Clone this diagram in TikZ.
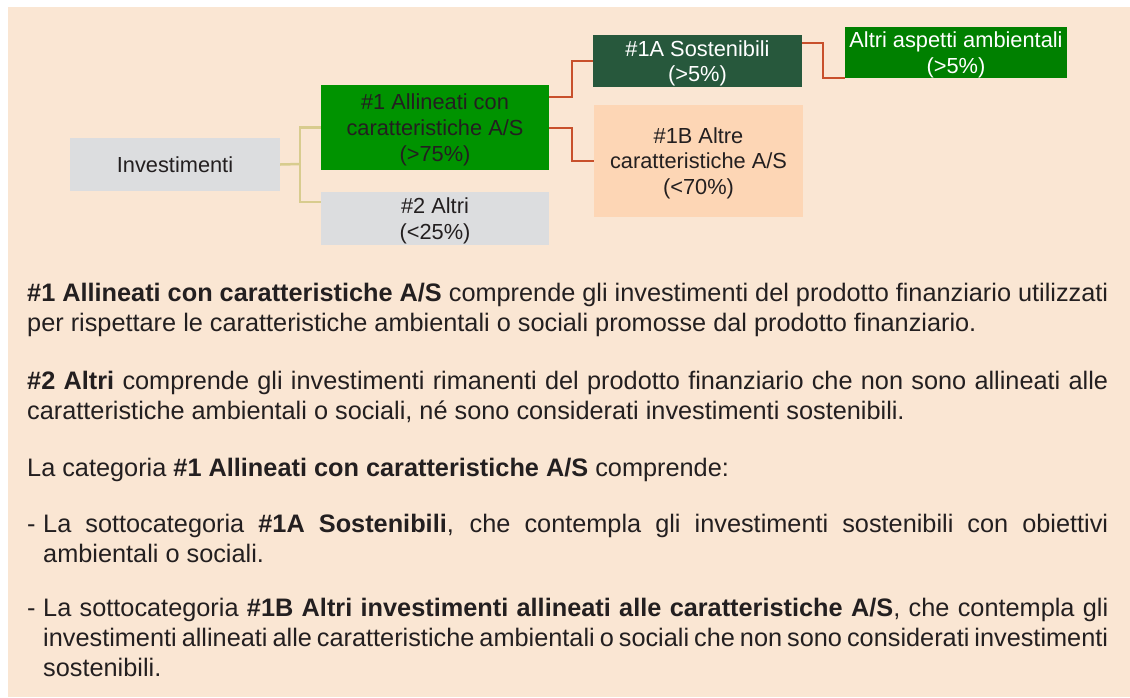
\documentclass[tikz,border=0pt]{standalone}
\usepackage{fontspec}
\setmainfont{Liberation Sans}
\usepackage{xcolor}
\usepackage{tikz}
\usetikzlibrary{positioning, calc}
\definecolor{bgpeach}{HTML}{FAE6D3}
\definecolor{boxgray}{HTML}{DCDDDF}
\definecolor{leafgreen}{HTML}{009300}
\definecolor{darkgreen}{HTML}{27583C}
\definecolor{envgreen}{HTML}{008000}
\definecolor{lightpeach}{HTML}{FDD6B5}
\definecolor{trunkcol}{HTML}{D8CC8E}
\definecolor{branchcol}{HTML}{C8502B}
\definecolor{inktext}{HTML}{231F20}
\tikzstyle{trunk} = [line width=2.5pt, trunkcol]
\tikzstyle{branch} = [line width=2pt, branchcol]

\begin{document}
\begin{tikzpicture}[
    x=1pt, y=-1pt,
    catbox/.style={rectangle, inner sep=0pt, align=center, text depth=0pt, text=inktext, font=\fontsize{21.8}{25.8}\selectfont},
    para/.style={anchor=base west, inner sep=0pt, text width=1081pt, align=justify, text=inktext, font=\fontsize{25.3}{30}\selectfont}
]
    \useasboundingbox (0,0) rectangle (1130,697);
    \fill[bgpeach] (8,7) rectangle (1130,697);

    \node[catbox, fill=boxgray, minimum width=210pt, minimum height=53pt] (inv) at (175,164.5) {Investimenti};
    \node[catbox, fill=leafgreen, minimum width=228pt, minimum height=85pt] (one) at (435,127.5) {\#1 Allineati con\\caratteristiche A/S\\(>75\%)};
    \node[catbox, fill=boxgray, minimum width=228pt, minimum height=53pt] (two) at (435,218.5) {\#2 Altri\\(<25\%)};
    \node[catbox, fill=darkgreen, text=white, minimum width=209pt, minimum height=52pt] (onea) at (697.5,61) {\#1A Sostenibili\\(>5\%)};
    \node[catbox, fill=lightpeach, minimum width=209pt, minimum height=112pt] (oneb) at (698.5,161) {\#1B Altre\\caratteristiche A/S\\(<70\%)};
    \node[catbox, fill=envgreen, text=white, minimum width=222pt, minimum height=51pt] (alt) at (956,52.5) {Altri aspetti ambientali\\(>5\%)};

    \coordinate (split) at (300,164);
    \draw[trunk] (inv.east) -- (split);
    \draw[trunk] (one.west) -| (split) |- ($(two.north west)+(0,10)$);

    \draw[branch] ($(one.north east)+(0,12)$) -- ++(23,0) |- (onea.west);
    \draw[branch] (one.east) -- ++(23,0) |- (oneb.west);
    \draw[branch] ($(onea.north east)+(0,8)$) -- ++(21,0) |- (alt.south west);

    % descriptions
    \node[para] (defone) at (27,301) {\textbf{\#1 Allineati con caratteristiche A/S} comprende gli investimenti del prodotto finanziario utilizzati\linebreak per rispettare le caratteristiche ambientali o sociali promosse dal prodotto finanziario.\par};
    \node[para] (deftwo) at (27,389) {\textbf{\#2 Altri} comprende gli investimenti rimanenti del prodotto finanziario che non sono allineati alle\linebreak caratteristiche ambientali o sociali, né sono considerati investimenti sostenibili.\par};
    \node[para] (defcat) at (27,476) {La categoria \textbf{\#1 Allineati con caratteristiche A/S} comprende:\par};
    \node[para] (itema) at (27,532) {\hangindent=16pt\hangafter=1\makebox[16pt][l]{-}La sottocategoria \textbf{\#1A Sostenibili}, che contempla gli investimenti sostenibili con obiettivi\linebreak ambientali o sociali.\par};
    \node[para] (itemb) at (27,616) {\hangindent=16pt\hangafter=1\makebox[16pt][l]{-}La sottocategoria \textbf{\#1B Altri investimenti allineati alle caratteristiche A/S}, che contempla gli\linebreak investimenti allineati alle caratteristiche ambientali o sociali che non sono considerati investimenti\linebreak sostenibili.\par};
\end{tikzpicture}
\end{document}
